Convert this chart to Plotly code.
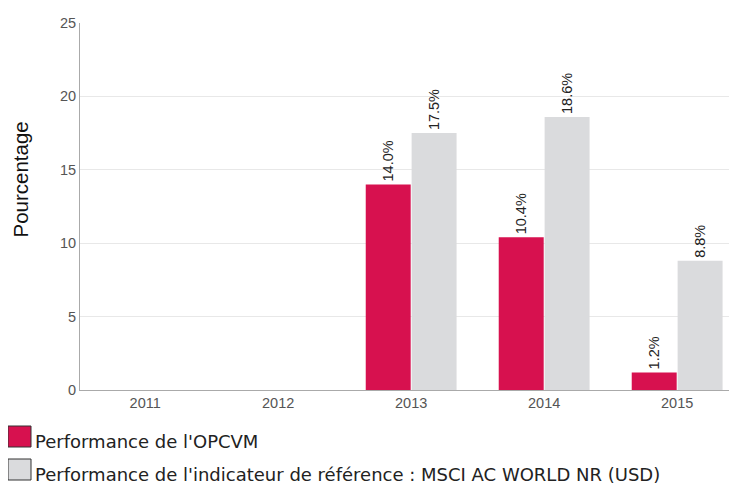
import plotly.graph_objects as go

years = ["2011", "2012", "2013", "2014", "2015"]
fund = [None, None, 14.0, 10.4, 1.2]
benchmark = [None, None, 17.5, 18.6, 8.8]
fund_name = "Performance de l'OPCVM"
bench_name = "Performance de l'indicateur de référence : MSCI AC WORLD NR (USD)"
y_ticks = [0, 5, 10, 15, 20, 25]

RED = "#D7114F"
GREY = "#DADBDD"
FONT = "Liberation Sans"

# page body has an 8px margin: figure is drawn at (8, 8)
OFF = 8
W, H = 737 - OFF, 486 - OFF
L, T, B = 80 - OFF, 23 - OFF, 96
PW, PH = W - L, H - T - B


def px(x):  # page pixel x -> paper
    return (x - OFF - L) / PW


def py(y):  # page pixel y -> paper
    return (T + PH - (y - OFF)) / PH


def labels(vals):
    return ["" if v is None else f"{v:.1f}%" for v in vals]


fig = go.Figure()
fig.add_bar(x=years, y=fund, name=fund_name, marker=dict(color=RED, line=dict(width=0)),
            text=labels(fund), textposition="outside", textangle=-90,
            textfont=dict(family=FONT, size=14.5, color="#222"), cliponaxis=False)
fig.add_bar(x=years, y=benchmark, name=bench_name, marker=dict(color=GREY, line=dict(width=0)),
            text=labels(benchmark), textposition="outside", textangle=-90,
            textfont=dict(family=FONT, size=14.5, color="#222"), cliponaxis=False)

fig.update_layout(
    width=W, height=H,
    margin=dict(l=L, r=0, t=T, b=B),
    paper_bgcolor="white", plot_bgcolor="white",
    barmode="group", bargap=0.31, bargroupgap=0.02,
    showlegend=False,
    font=dict(family=FONT, color="#555"),
)
fig.update_xaxes(range=[-0.49, 4.45], showline=True, linecolor="#aaa", linewidth=1,
                 ticks="", tickfont=dict(size=14.5, color="#555"), showgrid=False)
fig.update_yaxes(range=[0, 25], tickvals=y_ticks, showline=True, linecolor="#aaa", linewidth=1,
                 gridcolor="#e8e8e8", gridwidth=1, zeroline=False, ticks="",
                 tickfont=dict(size=14.5, color="#555"))

# axis title
fig.add_annotation(xref="paper", yref="paper", x=px(19.5), y=py(180), text="Pourcentage",
                   textangle=-90, showarrow=False, xanchor="center", yanchor="middle",
                   borderpad=0,
                   font=dict(family=FONT, size=20.5, color="#111"))

# legend drawn manually (large outlined squares)
legend_items = [(fund_name, RED), (bench_name, GREY)]
for i, (name, col) in enumerate(legend_items):
    y0 = 426 + i * 33
    fig.add_shape(type="rect", xref="paper", yref="paper",
                  x0=px(8), x1=px(31), y0=py(y0 + 21), y1=py(y0),
                  fillcolor=col, line=dict(color="#333", width=1))
    fig.add_annotation(xref="paper", yref="paper", x=px(33), y=py(y0 + 15),
                       text=name, showarrow=False, xanchor="left", yanchor="middle",
                       font=dict(family="DejaVu Sans", size=18, color="#222"))

fig.write_html("out.html")
